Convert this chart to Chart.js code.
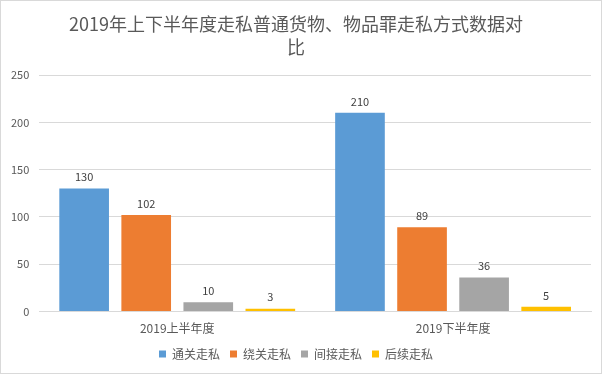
<!DOCTYPE html>
<html>
<head>
<meta charset="utf-8">
<script src="https://cdn.jsdelivr.net/npm/chart.js@4"></script>
<style>
  html, body { margin: 0; padding: 0; background: #fff; }
  #wrap { width: 600px; height: 372px; border: 1px solid #d9d9d9; }
</style>
</head>
<body>
<div id="wrap"><canvas id="chart" width="600" height="372"></canvas></div>
<script>
const categories = ['2019上半年度', '2019下半年度'];
const seriesNames = ['通关走私', '绕关走私', '间接走私', '后续走私'];
const tongguan = [130, 210];
const raoguan = [102, 89];
const jianjie = [10, 36];
const houxu = [3, 5];
const yTicks = [0, 50, 100, 150, 200, 250];

const colors = ['#5B9BD5', '#ED7D31', '#A5A5A5', '#FFC000'];
const font = '"Noto Sans CJK SC", "Noto Sans", sans-serif';

// value labels above each bar
const barLabels = {
  id: 'barLabels',
  afterDatasetsDraw(chart) {
    const ctx = chart.ctx;
    ctx.save();
    ctx.font = '11px ' + font;
    ctx.fillStyle = '#404040';
    ctx.textAlign = 'center';
    ctx.textBaseline = 'bottom';
    chart.data.datasets.forEach((ds, i) => {
      chart.getDatasetMeta(i).data.forEach((bar, j) => {
        ctx.fillText(ds.data[j], bar.x, bar.y - 6);
      });
    });
    ctx.restore();
  }
};

new Chart(document.getElementById('chart'), {
  type: 'bar',
  data: {
    labels: categories,
    datasets: [tongguan, raoguan, jianjie, houxu].map((d, i) => ({
      label: seriesNames[i],
      data: d,
      backgroundColor: colors[i],
      categoryPercentage: 0.9,
      barPercentage: 0.8
    }))
  },
  options: {
    responsive: false,
    animation: false,
    layout: { padding: { left: 0, right: 10, top: 8, bottom: 3 } },
    plugins: {
      title: {
        display: true,
        text: ['2019年上下半年度走私普通货物、物品罪走私方式数据对', '比'],
        color: '#595959',
        font: { family: font, size: 18, weight: 'normal', lineHeight: 1.25 },
        padding: { top: 4, bottom: 17 }
      },
      legend: {
        position: 'bottom',
        labels: {
          color: '#595959',
          font: { family: font, size: 12 },
          boxWidth: 7,
          boxHeight: 7,
          padding: 10
        }
      },
      tooltip: { enabled: false }
    },
    scales: {
      x: {
        grid: { display: false },
        border: { color: '#d9d9d9' },
        ticks: { color: '#595959', font: { family: font, size: 12 }, padding: 2 }
      },
      y: {
        min: 0,
        max: 250,
        afterBuildTicks: axis => { axis.ticks = yTicks.map(v => ({ value: v })); },
        grid: { color: '#d9d9d9', drawTicks: false },
        border: { display: false },
        ticks: { color: '#595959', font: { family: font, size: 11 }, padding: 10 }
      }
    }
  },
  plugins: [barLabels]
});
</script>
</body>
</html>
